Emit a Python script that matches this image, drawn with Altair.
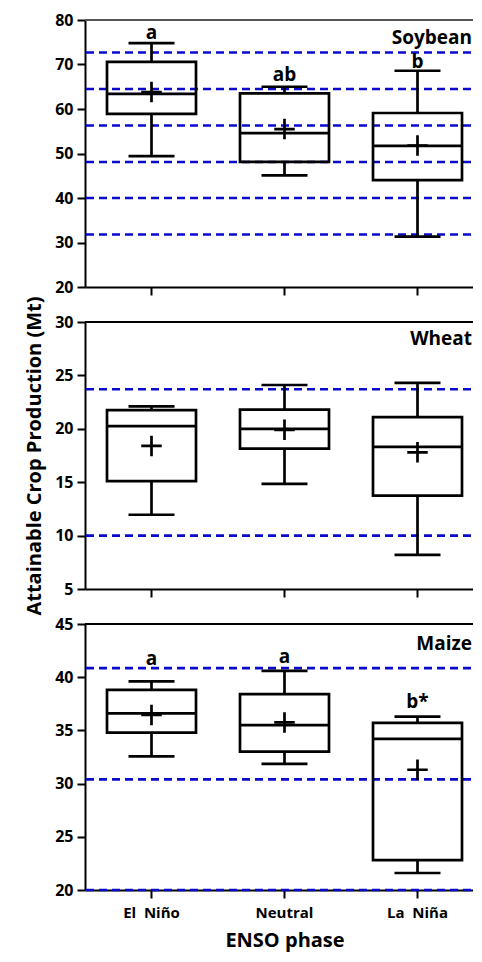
import altair as alt
import pandas as pd

phases = ["El Niño", "Neutral", "La Niña"]

# Soybean
soy_whi = [74.8, 65.0, 68.6]
soy_q3 = [70.6, 63.5, 59.1]
soy_med = [63.4, 54.6, 51.7]
soy_mean = [63.8, 55.5, 51.8]
soy_q1 = [58.9, 48.1, 44.0]
soy_wlo = [49.4, 45.1, 31.3]
soy_lines = [72.7, 64.5, 56.3, 48.1, 40.0, 31.8]
soy_letters = ["a", "ab", "b"]
soy_letter_y = [75.7, 66.3, 69.2]

# Wheat
wht_whi = [22.1, 24.1, 24.3]
wht_q3 = [21.75, 21.8, 21.1]
wht_med = [20.25, 20.0, 18.3]
wht_mean = [18.4, 19.9, 17.8]
wht_q1 = [15.1, 18.15, 13.75]
wht_wlo = [11.95, 14.85, 8.2]
wht_lines = [23.7, 10.0]
wht_letters = ["", "", ""]
wht_letter_y = [25.0, 25.0, 25.0]

# Maize
mz_whi = [39.6, 40.6, 36.3]
mz_q3 = [38.8, 38.4, 35.7]
mz_med = [36.6, 35.5, 34.2]
mz_mean = [36.45, 35.75, 31.3]
mz_q1 = [34.8, 33.0, 22.8]
mz_wlo = [32.55, 31.85, 21.6]
mz_lines = [40.85, 30.4, 20.0]
mz_letters = ["a", "a", "b*"]
mz_letter_y = [41.15, 41.3, 37.1]

FONT = "Open Sans"
W = 399
BLUE = "#0A0ACC"
LW = 2.7


def panel(name, name_y, whi, q3, med, mean, q1, wlo, lines, letters, letter_y,
          domain, ticks, height, bottom=False, ytitle=False, border="#000000"):
    df = pd.DataFrame({"phase": phases, "whi": whi, "q3": q3, "med": med,
                       "mean": mean, "q1": q1, "wlo": wlo,
                       "letter": letters, "ly": letter_y})
    yscale = alt.Scale(domain=domain, nice=False, zero=False)
    yaxis = alt.Axis(values=ticks, title="Attainable Crop Production (Mt)" if ytitle else None)
    xscale = alt.Scale(domain=phases, paddingInner=0, paddingOuter=0)
    xaxis = alt.Axis(labels=bottom, title="ENSO phase" if bottom else None, labelAngle=0,
                     labelExpr="replace(datum.label, ' ', '\u00a0\u00a0')")
    X = alt.X("phase:N", scale=xscale, axis=xaxis, sort=phases)

    ldf = pd.DataFrame({"v": lines})
    dashed = alt.Chart(ldf).mark_rule(color=BLUE, strokeWidth=2.6, strokeDash=[8, 5]).encode(
        y=alt.Y("v:Q", scale=yscale, axis=yaxis))
    base = alt.Chart(df)
    wlow = base.mark_rule(color="black", strokeWidth=LW).encode(x=X, y=alt.Y("wlo:Q", scale=yscale), y2="q1:Q")
    whigh = base.mark_rule(color="black", strokeWidth=LW).encode(x=X, y=alt.Y("q3:Q", scale=yscale), y2="whi:Q")
    cap_lo = base.mark_tick(color="black", size=46, thickness=LW, orient="horizontal", opacity=1).encode(
        x=X, y=alt.Y("wlo:Q", scale=yscale))
    cap_hi = base.mark_tick(color="black", size=46, thickness=LW, orient="horizontal", opacity=1).encode(
        x=X, y=alt.Y("whi:Q", scale=yscale))
    box = base.mark_bar(size=89, fillOpacity=0, stroke="black", strokeWidth=LW, orient="vertical").encode(
        x=X, y=alt.Y("q1:Q", scale=yscale), y2="q3:Q")
    medt = base.mark_tick(color="black", size=89, thickness=LW, orient="horizontal", opacity=1).encode(
        x=X, y=alt.Y("med:Q", scale=yscale))
    meanp = base.mark_point(shape="M-1,0L1,0M0,-1L0,1", size=420, filled=False,
                            color="black", strokeWidth=LW, opacity=1).encode(
        x=X, y=alt.Y("mean:Q", scale=yscale))
    let = base.mark_text(font=FONT, fontWeight="bold", fontSize=19, baseline="alphabetic",
                         color="black").encode(x=X, y=alt.Y("ly:Q", scale=yscale), text="letter:N")
    ndf = pd.DataFrame({"name": [name], "ny": [name_y]})
    crop = alt.Chart(ndf).mark_text(font=FONT, fontWeight="bold", fontSize=19, align="right",
                                    baseline="alphabetic", color="black").encode(
        x=alt.value(W - 12), y=alt.Y("ny:Q", scale=yscale), text="name:N")
    topline = alt.Chart(ndf).mark_rule(color=border, strokeWidth=2).encode(
        x=alt.value(0), x2=alt.value(W), y=alt.value(0))
    return alt.layer(dashed, wlow, whigh, cap_lo, cap_hi, box, medt, meanp, let, crop, topline).properties(
        width=W, height=height)


p1 = panel("Soybean", 74.6, soy_whi, soy_q3, soy_med, soy_mean, soy_q1, soy_wlo, soy_lines,
           soy_letters, soy_letter_y, [20, 80], [20, 30, 40, 50, 60, 70, 80], 267, border="#555555")
p2 = panel("Wheat", 27.85, wht_whi, wht_q3, wht_med, wht_mean, wht_q1, wht_wlo, wht_lines,
           wht_letters, wht_letter_y, [5, 30], [5, 10, 15, 20, 25, 30], 267, ytitle=True)
p3 = panel("Maize", 42.55, mz_whi, mz_q3, mz_med, mz_mean, mz_q1, mz_wlo, mz_lines,
           mz_letters, mz_letter_y, [20, 45], [20, 25, 30, 35, 40, 45], 266, bottom=True)

chart = alt.vconcat(p1, p2, p3, spacing=35, bounds="flush").properties(
    padding={"left": 16, "top": 4, "right": -13, "bottom": 3}
).configure_view(stroke=None).configure_axis(
    domainColor="black", domainWidth=2, tickColor="black", tickWidth=2, tickSize=8,
    labelFont=FONT, labelFontWeight="bold", labelFontSize=16, labelColor="black",
    grid=False, labelPadding=4, titleFont=FONT, titleFontWeight="bold", titleColor="black"
).configure_axisY(
    titleFontSize=20, titlePadding=10
).configure_axisX(
    labelPadding=7, labelFontSize=15, titleFontSize=20, titlePadding=10
)

chart.save("out.html", embed_options={"renderer": "svg", "actions": False})
